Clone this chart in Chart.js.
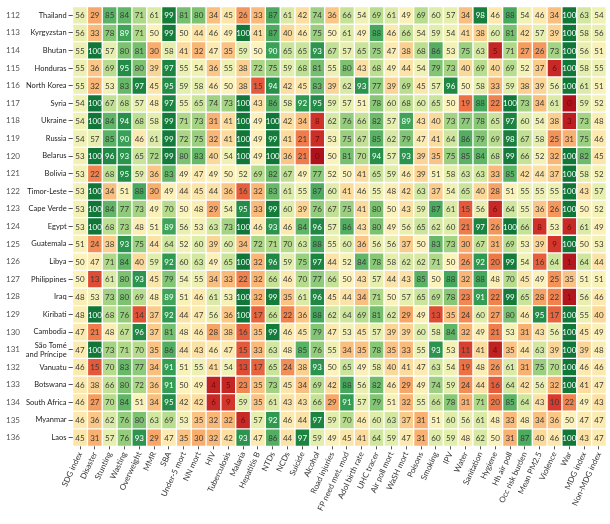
<!DOCTYPE html>
<html>
<head>
<meta charset="utf-8">
<script src="https://cdn.jsdelivr.net/npm/chart.js@4.4.1/dist/chart.umd.min.js"></script>
<style>
html, body { margin: 0; padding: 0; background: #fff; }
</style>
</head>
<body>
<canvas id="chart_heat" width="610" height="524"></canvas>
<script>
// rank numbers and countries, top to bottom
var rowNumbers = [112, 113, 114, 115, 116, 117, 118, 119, 120, 121, 122, 123, 124, 125, 126, 127, 128, 129, 130, 131, 132, 133, 134, 135, 136];
var countries = ["Thailand", "Kyrgyzstan", "Bhutan", "Honduras", "North Korea", "Syria", "Ukraine", "Russia", "Belarus", "Bolivia",
    "Timor-Leste", "Cape Verde", "Egypt", "Guatemala", "Libya", "Philippines", "Iraq", "Kiribati", "Cambodia",
    ["São Tomé", "and Príncipe"], "Vanuatu", "Botswana", "South Africa", "Myanmar", "Laos"];
// indicators, left to right
var indicators = ["SDG index", "Disaster", "Stunting", "Wasting", "Overweight", "MMR", "SBA", "Under-5 mort", "NN mort", "HIV",
    "Tuberculosis", "Malaria", "Hepatitis B", "NTDs", "NCDs", "Suicide", "Alcohol", "Road injuries", "FP need met, mod",
    "Adol birth rate", "UHC tracer", "Air poll mort", "WaSH mort", "Poisons", "Smoking", "IPV", "Water", "Sanitation",
    "Hygiene", "Hh air poll", "Occ risk burden", "Mean PM2.5", "Violence", "War", "MDG index", "Non-MDG index"];

// scores per country (0-100)
var thailand   = [56,29,85,84,71,61,99,81,80,34,45,26,33,87,61,42,74,36,66,54,69,61,49,69,60,57,34,98,46,88,54,46,34,100,63,54];
var kyrgyzstan = [56,33,78,89,71,50,99,50,44,46,49,100,41,87,40,46,75,50,61,49,88,46,66,54,59,54,41,38,60,81,42,57,39,100,58,56];
var bhutan     = [55,100,57,80,81,30,58,41,32,47,35,59,50,90,65,65,93,67,57,65,75,47,38,68,86,53,75,63,5,71,27,26,73,100,56,51];
var honduras   = [55,36,69,95,80,39,97,55,54,36,55,38,72,75,59,68,81,55,80,43,68,49,44,54,79,73,40,69,40,69,52,37,6,100,58,55];
var northKorea = [55,32,53,83,97,45,95,59,58,46,50,38,15,94,42,45,83,39,62,93,77,39,69,45,57,96,50,58,33,59,38,39,56,100,61,51];
var syria      = [54,100,67,68,57,48,97,55,65,74,73,100,43,86,58,92,95,59,57,51,78,60,68,60,65,50,19,88,22,100,73,34,61,0,59,52];
var ukraine    = [54,100,84,94,68,58,99,71,73,31,41,100,49,100,42,34,8,62,76,66,82,57,89,43,40,73,77,78,65,97,60,54,38,3,73,48];
var russia     = [54,57,85,90,46,61,99,72,75,32,41,100,49,99,41,21,7,53,75,67,85,62,79,47,41,64,86,79,69,98,67,58,25,31,75,46];
var belarus    = [53,100,96,93,65,72,99,80,83,40,54,100,49,100,36,21,0,50,81,70,94,57,93,39,35,75,85,84,68,99,66,52,32,100,82,45];
var bolivia    = [53,22,68,95,59,36,83,49,47,49,50,52,69,82,67,49,77,52,50,41,65,59,46,39,51,58,63,63,33,85,42,44,37,100,58,52];
var timorLeste = [53,100,34,51,88,30,49,44,45,44,36,16,32,83,61,55,87,60,41,46,55,48,42,63,37,54,65,40,28,51,55,55,55,100,43,57];
var capeVerde  = [53,100,84,77,73,49,70,50,48,29,54,95,33,99,60,39,76,67,75,41,80,50,43,59,87,61,15,56,6,64,55,36,26,100,50,52];
var egypt      = [53,100,68,73,48,51,89,56,53,63,73,100,46,93,46,84,96,57,86,43,80,49,56,65,62,60,21,97,26,100,66,8,53,6,61,49];
var guatemala  = [51,24,38,93,75,44,64,52,60,39,60,34,72,71,70,63,88,55,60,36,56,56,37,50,83,73,30,67,31,69,53,39,9,100,50,53];
var libya      = [50,47,71,84,40,59,92,60,63,49,65,100,32,96,59,75,97,44,52,84,78,58,62,62,71,50,26,92,20,99,54,16,64,1,64,44];
var philippines= [50,13,61,80,93,45,79,54,55,34,33,22,32,66,46,70,77,66,50,43,57,44,43,85,50,88,32,88,48,70,45,49,25,35,51,51];
var iraq       = [48,53,73,80,69,48,89,51,46,61,53,100,32,99,35,61,96,45,44,34,71,50,57,65,69,78,23,91,22,99,65,28,22,1,56,46];
var kiribati   = [48,100,68,76,14,37,92,44,47,56,36,100,17,66,22,36,88,62,64,69,81,62,29,49,13,35,24,60,27,80,46,95,17,100,55,40];
var cambodia   = [47,21,48,67,96,37,81,48,46,28,38,16,35,99,46,45,79,47,53,45,57,39,39,60,58,84,32,49,21,53,31,43,56,100,45,49];
var saoTome    = [47,100,73,71,70,35,86,44,43,46,47,15,33,63,48,85,76,55,34,35,78,35,33,55,93,53,11,41,4,35,44,63,39,100,39,48];
var vanuatu    = [46,15,70,83,77,34,91,51,55,41,54,13,17,65,24,38,93,50,65,49,58,40,41,47,63,54,19,48,26,61,31,75,70,100,46,46];
var botswana   = [46,38,66,80,72,36,91,50,49,4,5,23,35,73,45,34,69,42,88,56,82,46,29,49,74,59,24,44,16,64,42,56,32,100,41,47];
var southAfrica= [46,27,70,84,51,34,95,42,42,6,9,59,35,61,43,43,66,29,91,57,79,51,32,55,66,78,31,71,20,85,64,43,10,22,49,43];
var myanmar    = [46,36,62,76,80,63,69,53,35,32,32,6,57,92,46,44,97,59,70,46,60,63,37,31,51,60,56,61,48,33,48,34,36,50,47,47];
var laos       = [45,31,57,76,93,29,47,35,30,32,42,93,47,86,44,97,59,49,45,41,64,59,47,31,60,59,48,62,50,31,87,40,46,100,43,47];

var scoreRows = [thailand, kyrgyzstan, bhutan, honduras, northKorea, syria, ukraine, russia, belarus, bolivia, timorLeste,
    capeVerde, egypt, guatemala, libya, philippines, iraq, kiribati, cambodia, saoTome, vanuatu, botswana, southAfrica,
    myanmar, laos];

//----------------------------------------------------------------------------------------------------------------------------
// colour ramp red -> yellow -> green
//----------------------------------------------------------------------------------------------------------------------------
var rampStops = ["#b0121c", "#d73a2c", "#ee7746", "#f8ad6c", "#fbd999", "#fbf3bb", "#dfedaa", "#b5db8b", "#7cc271", "#38a157", "#107738"];

function hexToRgb(h) {
    return [parseInt(h.substr(1, 2), 16), parseInt(h.substr(3, 2), 16), parseInt(h.substr(5, 2), 16)];
}

function ScoreColour(v) {
    var t = Math.max(0, Math.min(100, v)) / 10;
    var i = Math.min(9, Math.floor(t));
    var f = t - i;
    var a = hexToRgb(rampStops[i]), b = hexToRgb(rampStops[i + 1]);
    var c = a.map(function (x, k) { return Math.round(x + (b[k] - x) * f); });
    return "rgb(" + c.join(",") + ")";
}

function TextColour(v) {
    if (v >= 89) { return "#ffffff"; }
    if (v < 10) { return "#6e0a0a"; }
    return "#3a3a3a";
}

// one tick per row, at the row centre
function RowTicks(scale) {
    scale.ticks = rowNumbers.map(function (n, i) { return { value: i }; });
}

// numbers inside each cell
var cellLabels = {
    id: "cellLabels",
    afterDatasetsDraw: function (chart) {
        var ctx = chart.ctx;
        ctx.save();
        ctx.font = "8px Lato";
        ctx.textAlign = "center";
        ctx.textBaseline = "middle";
        chart.data.datasets.forEach(function (ds, i) {
            var meta = chart.getDatasetMeta(i);
            meta.data.forEach(function (bar, j) {
                var v = ds.scores[j];
                ctx.fillStyle = TextColour(v);
                ctx.fillText(String(v), bar.x, (bar.y + bar.base) / 2 + 0.5);
            });
        });
        ctx.restore();
    }
};

function DrawHeatmap() {
    var datasets = scoreRows.map(function (row, r) {
        return {
            label: rowNumbers[r],
            scores: row,
            data: row.map(function () { return [r - 0.5, r + 0.5]; }),
            backgroundColor: row.map(ScoreColour),
            borderColor: "#ffffff",
            borderWidth: 1,
            borderSkipped: false,
            grouped: false,
            barPercentage: 1,
            categoryPercentage: 1
        };
    });

    new Chart(document.getElementById("chart_heat"), {
        type: "bar",
        data: { labels: indicators, datasets: datasets },
        plugins: [cellLabels],
        options: {
            responsive: false,
            animation: false,
            layout: { padding: { top: 3.6, right: 3.6, left: 6, bottom: 0 } },
            plugins: { legend: { display: false }, tooltip: { enabled: false } },
            scales: {
                x: {
                    grid: { display: true, drawOnChartArea: false, offset: false, tickLength: 3, color: "#555" },
                    border: { display: false },
                    ticks: {
                        autoSkip: false, minRotation: 65, maxRotation: 65, padding: 1,
                        color: "#333", font: { family: "Lato", size: 8 }
                    },
                    afterFit: function (s) { s.height = 77.6; }
                },
                y: {
                    min: -0.5, max: 24.5, reverse: true,
                    afterBuildTicks: RowTicks,
                    grid: { display: true, drawOnChartArea: false, tickLength: 4, color: "#555" },
                    border: { display: false },
                    ticks: {
                        autoSkip: false, padding: 2,
                        color: "#222", font: { family: "Lato", size: 7.5 },
                        callback: function (v) { return countries[v]; }
                    },
                    afterFit: function (s) { s.width = 50; }
                },
                yNum: {
                    position: "left", weight: 5,
                    min: -0.5, max: 24.5, reverse: true,
                    afterBuildTicks: RowTicks,
                    grid: { display: false },
                    border: { display: false },
                    ticks: {
                        autoSkip: false, crossAlign: "far", padding: 0,
                        color: "#555", font: { family: "Lato", size: 8 },
                        callback: function (v) { return rowNumbers[v]; }
                    },
                    afterFit: function (s) { s.width = 16.6; }
                }
            }
        }
    });
}

DrawHeatmap();
</script>
</body>
</html>
